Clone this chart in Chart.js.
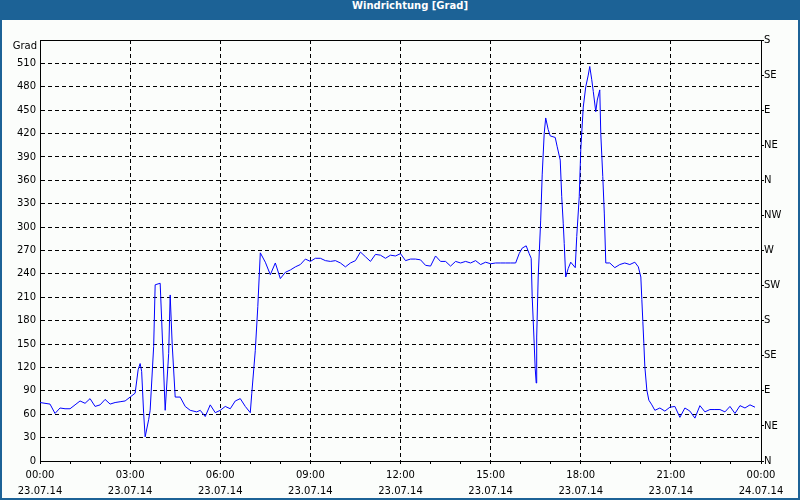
<!DOCTYPE html>
<html>
<head>
<meta charset="utf-8">
<script src="https://cdn.jsdelivr.net/npm/chart.js@4/dist/chart.umd.min.js"></script>
<style>
  body { margin: 0; overflow: hidden; }
  #frame { position: relative; width: 800px; height: 500px; background: #1c6296; }
  #title { height: 20px; line-height: 20px; color: #fff; font: bold 10px 'DejaVu Sans', sans-serif; text-align: center; padding-left: 20px; }
  #box { position: absolute; left: 2px; top: 20px; width: 796px; height: 478px; background: #fbfdfb; }
</style>
</head>
<body>
<div id="frame">
  <div id="title">Windrichtung [Grad]</div>
  <div id="box"><canvas id="chart" width="796" height="478"></canvas></div>
</div>
<script>
// data: minutes since 23.07.14 00:00, wind direction in degrees
const minutes = [
  0, 10, 20, 30, 40, 50, 60, 70, 80, 90, 100, 110, 120, 130, 140, 150, 160, 170,
  180, 190, 196, 200, 203, 207, 210, 217, 220, 227, 230, 240, 243, 250, 257, 260, 264, 270,
  280, 290, 300, 313, 320, 330, 340, 350, 360, 370, 380, 390, 400, 410, 420, 423, 430, 435,
  440, 450, 460, 470, 480, 490, 500, 510, 520, 530, 540, 550, 560, 570, 580, 590,
  600, 610, 620, 630, 640, 650, 660, 670, 680, 690, 700, 710, 720, 730, 740, 750,
  760, 770, 780, 790, 800, 810, 820, 830, 840, 850, 860, 870, 880, 890, 900, 910,
  920, 930, 940, 950, 957, 963, 971, 977, 981, 983, 987, 989, 991, 992, 995, 1000,
  1003, 1007, 1010, 1015, 1019, 1029, 1033, 1039, 1042, 1045, 1047, 1050, 1055, 1060,
  1069, 1072, 1077, 1080, 1085, 1090, 1095, 1098, 1102, 1105, 1110, 1113, 1118, 1120,
  1124, 1127, 1130, 1138, 1148, 1158, 1168, 1178, 1188, 1195, 1200, 1202, 1204, 1206,
  1208, 1212, 1216, 1222, 1228, 1238, 1248, 1258, 1268, 1278, 1288, 1298, 1308, 1318,
  1328, 1338, 1348, 1358, 1368, 1378, 1388, 1398, 1408, 1418, 1428
];
const windDir = [
  75, 74, 73, 61, 68, 67, 67, 72, 77, 74, 80, 70, 72, 79, 73, 75, 76, 77,
  82, 87, 117, 125, 115, 61, 31, 53, 65, 147, 226, 228, 181, 65, 138, 213, 150, 82,
  82, 70, 65, 63, 65, 57, 72, 62, 65, 70, 67, 77, 80, 70, 62, 87, 142, 198,
  267, 255, 239, 254, 234, 242, 245, 249, 252, 259, 256, 260, 260, 257, 256, 257,
  254, 249, 254, 257, 268, 262, 256, 265, 264, 260, 264, 263, 266, 257, 259, 259,
  258, 251, 250, 263, 256, 256, 250, 256, 254, 256, 254, 257, 252, 255, 253, 254,
  254, 254, 254, 254, 266, 273, 276, 266, 260, 211, 151, 119, 100, 159, 236, 309,
  367, 420, 440, 425, 417, 415, 403, 386, 339, 305, 279, 236, 247, 255,
  248, 288, 339, 399, 454, 480, 495, 506, 489, 474, 448, 463, 476, 420,
  365, 318, 254, 254, 248, 252, 254, 252, 255, 249, 236, 207, 179, 151,
  121, 91, 78, 72, 65, 68, 64, 69, 70, 56, 68, 64, 55, 71,
  63, 66, 66, 66, 63, 70, 61, 71, 68, 72, 69
];

// axis labels
const tickTimes = ['00:00', '03:00', '06:00', '09:00', '12:00', '15:00', '18:00', '21:00', '00:00'];
const tickDates = ['23.07.14', '23.07.14', '23.07.14', '23.07.14', '23.07.14', '23.07.14', '23.07.14', '23.07.14', '24.07.14'];
const compass = ['N', 'NE', 'E', 'SE', 'S', 'SW', 'W', 'NW', 'N', 'NE', 'E', 'SE', 'S'];
const unitLabel = 'Grad';

const font = { family: "'DejaVu Sans', sans-serif", size: 10 };

const points = minutes.map((m, i) => ({ x: m, y: windDir[i] }));

// top border of the plot and the unit label
const framePlugin = {
  id: 'frame',
  afterDraw(chart) {
    const { ctx, chartArea } = chart;
    ctx.save();
    ctx.strokeStyle = '#000';
    ctx.lineWidth = 1;
    ctx.beginPath();
    ctx.moveTo(chartArea.left, chartArea.top + 0.5);
    ctx.lineTo(chartArea.right + 1, chartArea.top + 0.5);
    ctx.stroke();
    ctx.fillStyle = '#000';
    ctx.font = "10px 'DejaVu Sans', sans-serif";
    ctx.textAlign = 'right';
    ctx.textBaseline = 'middle';
    ctx.fillText(unitLabel, chartArea.left - 3, chartArea.top + 6);
    ctx.restore();
  }
};

new Chart(document.getElementById('chart'), {
  type: 'line',
  data: {
    datasets: [{
      data: points,
      borderColor: '#0000ff',
      borderWidth: 1,
      pointRadius: 0,
      tension: 0,
      fill: false
    }]
  },
  options: {
    responsive: false,
    animation: false,
    layout: { padding: { top: 20, left: 0, right: 0, bottom: 0 } },
    plugins: { legend: { display: false }, tooltip: { enabled: false } },
    scales: {
      x: {
        type: 'linear',
        min: 0,
        max: 1440,
        afterFit: s => { s.height = 37; },
        grid: {
          color: c => (c.tick && c.tick.value % 180 === 0) ? '#000' : 'rgba(0,0,0,0)',
          tickColor: '#000',
          tickLength: 3,
          tickBorderDash: []
        },
        border: { color: '#000', dash: [4, 3] },
        ticks: {
          stepSize: 60,
          autoSkip: false,
          maxRotation: 0,
          padding: 3,
          color: '#000',
          font: { ...font, lineHeight: 1.6 },
          callback: v => v % 180 === 0 ? [tickTimes[v / 180], tickDates[v / 180]] : ''
        }
      },
      y: {
        position: 'left',
        min: 0,
        max: 540,
        afterFit: s => { s.width = 38; },
        grid: { color: '#000', drawTicks: false },
        border: { color: '#000', dash: [4, 3] },
        ticks: {
          stepSize: 30,
          padding: 4,
          color: '#000',
          font: font,
          callback: v => v === 540 ? '' : v
        }
      },
      y2: {
        position: 'right',
        min: 0,
        max: 540,
        afterFit: s => { s.width = 37; },
        grid: { drawOnChartArea: false, color: '#000', tickLength: 3 },
        border: { color: '#000' },
        ticks: {
          stepSize: 45,
          padding: 0,
          color: '#000',
          font: font,
          callback: v => compass[v / 45]
        }
      }
    }
  },
  plugins: [framePlugin]
});
</script>
</body>
</html>
